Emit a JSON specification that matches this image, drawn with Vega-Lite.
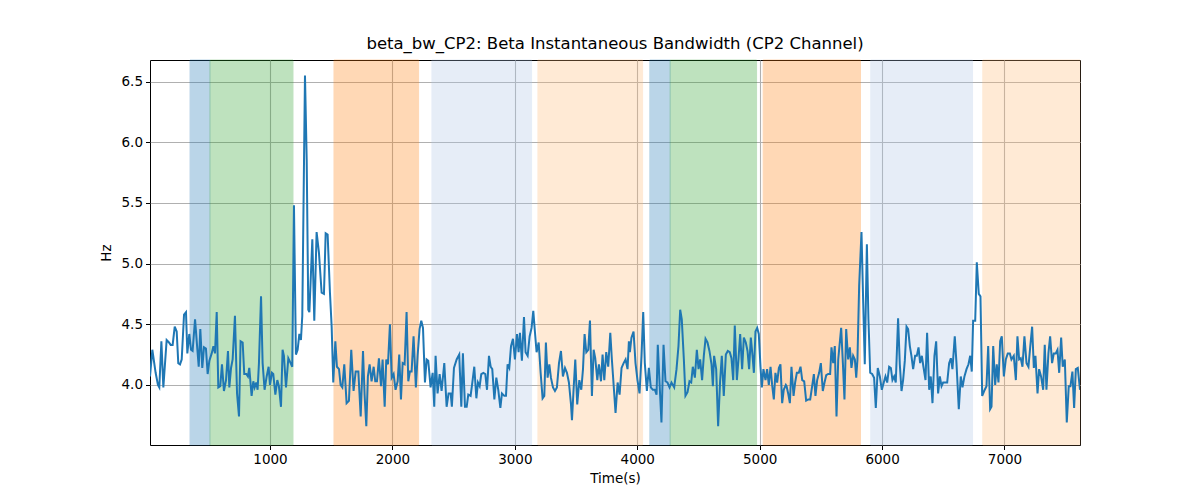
{
  "$schema": "https://vega.github.io/schema/vega-lite/v6.json",
  "description": "Beta instantaneous bandwidth of CP2 channel with shaded stage bands",
  "autosize": "none",
  "width": 930,
  "height": 385,
  "padding": {"left": 150, "top": 60, "right": 120, "bottom": 55},
  "background": "white",
  "config": {
    "font": "DejaVu Sans",
    "view": {"stroke": "black", "strokeWidth": 1},
    "axis": {
      "domain": false,
      "grid": true,
      "gridColor": "#b0b0b0",
      "gridWidth": 1.1,
      "tickColor": "black",
      "tickSize": 4.5,
      "tickWidth": 1,
      "labelFontSize": 13.5,
      "labelColor": "black",
      "labelPadding": 3,
      "titleFontSize": 13.5,
      "titleFontWeight": "normal",
      "titleColor": "black"
    },
    "title": {"fontSize": 16.5, "fontWeight": "normal", "color": "black", "offset": 7}
  },
  "title": "beta_bw_CP2: Beta Instantaneous Bandwidth (CP2 Channel)",
  "datasets": {
    "bands": [
      {"start": 347, "end": 510, "stage": "a"},
      {"start": 510, "end": 1188, "stage": "b"},
      {"start": 1523, "end": 2214, "stage": "c"},
      {"start": 2323, "end": 3137, "stage": "d"},
      {"start": 3189, "end": 4044, "stage": "e"},
      {"start": 4103, "end": 4269, "stage": "a"},
      {"start": 4269, "end": 4975, "stage": "b"},
      {"start": 5029, "end": 5824, "stage": "c"},
      {"start": 5908, "end": 6739, "stage": "d"},
      {"start": 6823, "end": 7617, "stage": "e"}
    ],
    "bw": [
      {"t": 20, "v": 4.07}, {"t": 39, "v": 4.29}, {"t": 66, "v": 4.10}, {"t": 85, "v": 4.00},
      {"t": 96, "v": 3.98}, {"t": 113, "v": 4.36}, {"t": 129, "v": 3.98}, {"t": 156, "v": 4.37},
      {"t": 175, "v": 4.35}, {"t": 189, "v": 4.33}, {"t": 205, "v": 4.33}, {"t": 222, "v": 4.48},
      {"t": 238, "v": 4.44}, {"t": 251, "v": 4.18}, {"t": 265, "v": 4.17}, {"t": 279, "v": 4.21},
      {"t": 298, "v": 4.58}, {"t": 314, "v": 4.60}, {"t": 325, "v": 4.26}, {"t": 341, "v": 4.42},
      {"t": 355, "v": 4.29}, {"t": 368, "v": 4.28}, {"t": 388, "v": 4.54}, {"t": 407, "v": 4.29},
      {"t": 418, "v": 4.15}, {"t": 431, "v": 4.46}, {"t": 447, "v": 4.14}, {"t": 461, "v": 4.31},
      {"t": 477, "v": 4.30}, {"t": 491, "v": 4.09}, {"t": 505, "v": 4.20}, {"t": 524, "v": 4.26},
      {"t": 538, "v": 4.32}, {"t": 551, "v": 4.26}, {"t": 565, "v": 4.60}, {"t": 578, "v": 3.98},
      {"t": 594, "v": 3.99}, {"t": 608, "v": 4.17}, {"t": 624, "v": 3.95}, {"t": 641, "v": 4.04},
      {"t": 657, "v": 4.28}, {"t": 668, "v": 3.98}, {"t": 682, "v": 4.14}, {"t": 695, "v": 4.21},
      {"t": 714, "v": 4.57}, {"t": 731, "v": 3.93}, {"t": 747, "v": 3.74}, {"t": 760, "v": 4.36},
      {"t": 777, "v": 4.35}, {"t": 790, "v": 4.09}, {"t": 807, "v": 4.09}, {"t": 820, "v": 4.07},
      {"t": 831, "v": 4.14}, {"t": 850, "v": 3.91}, {"t": 864, "v": 4.03}, {"t": 875, "v": 3.98},
      {"t": 888, "v": 4.02}, {"t": 899, "v": 3.96}, {"t": 910, "v": 4.18}, {"t": 927, "v": 4.73},
      {"t": 940, "v": 4.18}, {"t": 956, "v": 3.96}, {"t": 973, "v": 4.07}, {"t": 989, "v": 4.15},
      {"t": 1000, "v": 4.00}, {"t": 1016, "v": 4.10}, {"t": 1027, "v": 4.09}, {"t": 1044, "v": 3.92},
      {"t": 1060, "v": 4.04}, {"t": 1073, "v": 3.99}, {"t": 1090, "v": 3.82}, {"t": 1103, "v": 4.29},
      {"t": 1114, "v": 4.24}, {"t": 1131, "v": 3.98}, {"t": 1150, "v": 4.22}, {"t": 1169, "v": 4.18},
      {"t": 1182, "v": 4.15}, {"t": 1196, "v": 5.48}, {"t": 1212, "v": 4.25}, {"t": 1226, "v": 4.29},
      {"t": 1240, "v": 4.42}, {"t": 1253, "v": 4.37}, {"t": 1264, "v": 4.57}, {"t": 1286, "v": 6.55},
      {"t": 1300, "v": 5.86}, {"t": 1313, "v": 4.62}, {"t": 1322, "v": 4.60}, {"t": 1346, "v": 5.20},
      {"t": 1362, "v": 4.53}, {"t": 1381, "v": 5.26}, {"t": 1400, "v": 5.09}, {"t": 1422, "v": 4.76},
      {"t": 1441, "v": 4.75}, {"t": 1455, "v": 5.25}, {"t": 1471, "v": 5.24}, {"t": 1490, "v": 4.76},
      {"t": 1504, "v": 4.48}, {"t": 1517, "v": 4.02}, {"t": 1534, "v": 4.36}, {"t": 1547, "v": 4.15},
      {"t": 1564, "v": 4.13}, {"t": 1577, "v": 4.00}, {"t": 1591, "v": 3.98}, {"t": 1607, "v": 4.17},
      {"t": 1626, "v": 3.85}, {"t": 1645, "v": 3.87}, {"t": 1664, "v": 4.29}, {"t": 1683, "v": 3.95},
      {"t": 1700, "v": 4.11}, {"t": 1722, "v": 4.11}, {"t": 1741, "v": 3.74}, {"t": 1760, "v": 4.28},
      {"t": 1773, "v": 3.92}, {"t": 1787, "v": 3.66}, {"t": 1800, "v": 4.07}, {"t": 1814, "v": 4.17},
      {"t": 1830, "v": 4.03}, {"t": 1847, "v": 4.15}, {"t": 1860, "v": 4.03}, {"t": 1874, "v": 4.03},
      {"t": 1890, "v": 4.22}, {"t": 1907, "v": 3.99}, {"t": 1920, "v": 4.21}, {"t": 1937, "v": 3.82},
      {"t": 1950, "v": 4.21}, {"t": 1964, "v": 4.17}, {"t": 1980, "v": 4.50}, {"t": 1994, "v": 4.06},
      {"t": 2010, "v": 4.09}, {"t": 2026, "v": 3.96}, {"t": 2043, "v": 4.03}, {"t": 2056, "v": 4.25},
      {"t": 2070, "v": 3.88}, {"t": 2084, "v": 4.18}, {"t": 2100, "v": 4.17}, {"t": 2116, "v": 4.60},
      {"t": 2130, "v": 4.03}, {"t": 2143, "v": 4.11}, {"t": 2157, "v": 4.11}, {"t": 2173, "v": 4.40},
      {"t": 2192, "v": 3.98}, {"t": 2206, "v": 4.24}, {"t": 2222, "v": 4.46}, {"t": 2236, "v": 4.53},
      {"t": 2250, "v": 4.47}, {"t": 2266, "v": 4.02}, {"t": 2280, "v": 4.21}, {"t": 2293, "v": 4.20},
      {"t": 2312, "v": 3.98}, {"t": 2329, "v": 4.10}, {"t": 2342, "v": 3.82}, {"t": 2353, "v": 4.24},
      {"t": 2369, "v": 3.93}, {"t": 2386, "v": 4.09}, {"t": 2402, "v": 3.95}, {"t": 2424, "v": 4.18},
      {"t": 2443, "v": 3.82}, {"t": 2459, "v": 3.93}, {"t": 2476, "v": 3.93}, {"t": 2486, "v": 3.82},
      {"t": 2503, "v": 4.14}, {"t": 2525, "v": 4.21}, {"t": 2546, "v": 4.25}, {"t": 2563, "v": 3.82},
      {"t": 2576, "v": 4.26}, {"t": 2593, "v": 3.82}, {"t": 2607, "v": 3.82}, {"t": 2620, "v": 3.92},
      {"t": 2639, "v": 3.91}, {"t": 2653, "v": 4.02}, {"t": 2669, "v": 4.15}, {"t": 2686, "v": 3.89},
      {"t": 2699, "v": 4.02}, {"t": 2713, "v": 3.99}, {"t": 2726, "v": 4.09}, {"t": 2743, "v": 4.10},
      {"t": 2759, "v": 4.09}, {"t": 2773, "v": 3.96}, {"t": 2789, "v": 4.24}, {"t": 2803, "v": 4.15},
      {"t": 2816, "v": 4.13}, {"t": 2833, "v": 3.88}, {"t": 2849, "v": 4.06}, {"t": 2865, "v": 3.96},
      {"t": 2882, "v": 3.81}, {"t": 2895, "v": 3.93}, {"t": 2914, "v": 3.91}, {"t": 2928, "v": 3.91},
      {"t": 2941, "v": 4.17}, {"t": 2955, "v": 4.14}, {"t": 2969, "v": 4.32}, {"t": 2985, "v": 4.38},
      {"t": 3001, "v": 4.21}, {"t": 3018, "v": 4.42}, {"t": 3031, "v": 4.27}, {"t": 3042, "v": 4.43},
      {"t": 3058, "v": 4.20}, {"t": 3075, "v": 4.56}, {"t": 3088, "v": 4.27}, {"t": 3105, "v": 4.24},
      {"t": 3121, "v": 4.40}, {"t": 3137, "v": 4.47}, {"t": 3151, "v": 4.61}, {"t": 3165, "v": 4.43},
      {"t": 3178, "v": 4.27}, {"t": 3195, "v": 4.35}, {"t": 3211, "v": 4.10}, {"t": 3227, "v": 3.89},
      {"t": 3241, "v": 3.91}, {"t": 3254, "v": 4.35}, {"t": 3268, "v": 4.06}, {"t": 3282, "v": 4.17},
      {"t": 3295, "v": 4.06}, {"t": 3312, "v": 3.98}, {"t": 3328, "v": 3.95}, {"t": 3344, "v": 3.98},
      {"t": 3361, "v": 4.18}, {"t": 3377, "v": 4.28}, {"t": 3393, "v": 4.07}, {"t": 3410, "v": 4.14},
      {"t": 3426, "v": 4.10}, {"t": 3442, "v": 4.02}, {"t": 3459, "v": 3.84}, {"t": 3467, "v": 3.71},
      {"t": 3480, "v": 3.96}, {"t": 3494, "v": 4.21}, {"t": 3510, "v": 3.84}, {"t": 3527, "v": 4.04},
      {"t": 3543, "v": 3.96}, {"t": 3557, "v": 4.13}, {"t": 3570, "v": 4.42}, {"t": 3584, "v": 4.27},
      {"t": 3600, "v": 4.29}, {"t": 3614, "v": 4.53}, {"t": 3630, "v": 3.91}, {"t": 3644, "v": 4.29},
      {"t": 3657, "v": 4.22}, {"t": 3674, "v": 4.04}, {"t": 3687, "v": 4.17}, {"t": 3704, "v": 4.03},
      {"t": 3717, "v": 4.25}, {"t": 3731, "v": 4.04}, {"t": 3747, "v": 4.27}, {"t": 3763, "v": 4.15},
      {"t": 3780, "v": 4.43}, {"t": 3793, "v": 4.21}, {"t": 3810, "v": 3.96}, {"t": 3823, "v": 3.77},
      {"t": 3840, "v": 4.02}, {"t": 3856, "v": 3.92}, {"t": 3872, "v": 4.14}, {"t": 3889, "v": 4.18},
      {"t": 3905, "v": 4.21}, {"t": 3921, "v": 4.13}, {"t": 3932, "v": 4.36}, {"t": 3940, "v": 4.27},
      {"t": 3953, "v": 4.39}, {"t": 3970, "v": 4.44}, {"t": 3986, "v": 4.18}, {"t": 4002, "v": 4.04},
      {"t": 4019, "v": 3.93}, {"t": 4035, "v": 4.24}, {"t": 4049, "v": 4.60}, {"t": 4062, "v": 4.18},
      {"t": 4079, "v": 3.95}, {"t": 4095, "v": 4.14}, {"t": 4111, "v": 3.98}, {"t": 4128, "v": 3.96},
      {"t": 4144, "v": 3.96}, {"t": 4158, "v": 3.92}, {"t": 4168, "v": 4.33}, {"t": 4185, "v": 3.96},
      {"t": 4198, "v": 3.69}, {"t": 4215, "v": 4.33}, {"t": 4231, "v": 4.03}, {"t": 4247, "v": 4.02},
      {"t": 4264, "v": 3.98}, {"t": 4280, "v": 4.02}, {"t": 4302, "v": 3.98}, {"t": 4321, "v": 4.13},
      {"t": 4337, "v": 4.32}, {"t": 4351, "v": 4.62}, {"t": 4364, "v": 4.54}, {"t": 4381, "v": 4.21},
      {"t": 4394, "v": 3.91}, {"t": 4411, "v": 3.94}, {"t": 4427, "v": 4.03}, {"t": 4441, "v": 4.02},
      {"t": 4454, "v": 4.15}, {"t": 4471, "v": 4.06}, {"t": 4487, "v": 4.29}, {"t": 4501, "v": 4.13},
      {"t": 4514, "v": 4.21}, {"t": 4530, "v": 4.04}, {"t": 4544, "v": 4.24}, {"t": 4558, "v": 4.38},
      {"t": 4574, "v": 4.35}, {"t": 4590, "v": 4.28}, {"t": 4607, "v": 4.17}, {"t": 4618, "v": 3.99},
      {"t": 4628, "v": 4.24}, {"t": 4645, "v": 4.13}, {"t": 4661, "v": 3.66}, {"t": 4677, "v": 4.03},
      {"t": 4691, "v": 4.24}, {"t": 4707, "v": 3.91}, {"t": 4724, "v": 4.25}, {"t": 4740, "v": 4.28},
      {"t": 4756, "v": 4.27}, {"t": 4770, "v": 4.22}, {"t": 4784, "v": 4.04}, {"t": 4797, "v": 4.49},
      {"t": 4814, "v": 4.04}, {"t": 4827, "v": 4.21}, {"t": 4841, "v": 4.42}, {"t": 4857, "v": 4.13},
      {"t": 4871, "v": 4.39}, {"t": 4887, "v": 4.35}, {"t": 4901, "v": 4.28}, {"t": 4914, "v": 4.13},
      {"t": 4928, "v": 4.39}, {"t": 4942, "v": 4.24}, {"t": 4953, "v": 4.10}, {"t": 4966, "v": 4.44},
      {"t": 4980, "v": 4.47}, {"t": 4993, "v": 4.42}, {"t": 5007, "v": 4.15}, {"t": 5018, "v": 3.98},
      {"t": 5031, "v": 4.13}, {"t": 5048, "v": 4.04}, {"t": 5061, "v": 4.13}, {"t": 5075, "v": 4.00},
      {"t": 5089, "v": 4.15}, {"t": 5102, "v": 4.00}, {"t": 5116, "v": 3.88}, {"t": 5129, "v": 4.10},
      {"t": 5143, "v": 4.02}, {"t": 5157, "v": 4.14}, {"t": 5170, "v": 4.17}, {"t": 5184, "v": 3.85},
      {"t": 5197, "v": 3.96}, {"t": 5214, "v": 4.00}, {"t": 5220, "v": 3.99}, {"t": 5233, "v": 3.93},
      {"t": 5247, "v": 3.85}, {"t": 5260, "v": 4.15}, {"t": 5277, "v": 3.91}, {"t": 5290, "v": 4.02},
      {"t": 5304, "v": 4.10}, {"t": 5320, "v": 4.10}, {"t": 5334, "v": 4.15}, {"t": 5348, "v": 4.04},
      {"t": 5364, "v": 4.03}, {"t": 5380, "v": 3.87}, {"t": 5397, "v": 3.88}, {"t": 5413, "v": 3.88},
      {"t": 5429, "v": 3.99}, {"t": 5443, "v": 4.09}, {"t": 5456, "v": 3.91}, {"t": 5470, "v": 4.04},
      {"t": 5486, "v": 4.10}, {"t": 5500, "v": 4.18}, {"t": 5516, "v": 3.95}, {"t": 5530, "v": 4.02},
      {"t": 5544, "v": 4.08}, {"t": 5560, "v": 4.09}, {"t": 5576, "v": 4.09}, {"t": 5587, "v": 4.31},
      {"t": 5601, "v": 4.18}, {"t": 5614, "v": 4.32}, {"t": 5628, "v": 3.74}, {"t": 5642, "v": 4.21},
      {"t": 5652, "v": 4.32}, {"t": 5666, "v": 4.47}, {"t": 5680, "v": 4.18}, {"t": 5693, "v": 3.88},
      {"t": 5707, "v": 4.46}, {"t": 5723, "v": 4.21}, {"t": 5737, "v": 4.31}, {"t": 5750, "v": 4.14},
      {"t": 5764, "v": 4.24}, {"t": 5778, "v": 4.21}, {"t": 5789, "v": 4.06}, {"t": 5799, "v": 4.21},
      {"t": 5813, "v": 4.82}, {"t": 5832, "v": 5.26}, {"t": 5846, "v": 4.68}, {"t": 5859, "v": 4.17},
      {"t": 5876, "v": 5.16}, {"t": 5889, "v": 4.54}, {"t": 5903, "v": 4.10}, {"t": 5919, "v": 4.09},
      {"t": 5935, "v": 4.06}, {"t": 5949, "v": 3.81}, {"t": 5965, "v": 4.14}, {"t": 5982, "v": 4.07},
      {"t": 5998, "v": 3.96}, {"t": 6014, "v": 4.02}, {"t": 6028, "v": 4.07}, {"t": 6042, "v": 4.02},
      {"t": 6058, "v": 4.15}, {"t": 6072, "v": 4.14}, {"t": 6085, "v": 4.04}, {"t": 6099, "v": 4.07},
      {"t": 6112, "v": 4.02}, {"t": 6131, "v": 4.55}, {"t": 6145, "v": 4.17}, {"t": 6159, "v": 3.95},
      {"t": 6172, "v": 4.04}, {"t": 6186, "v": 4.20}, {"t": 6200, "v": 4.48}, {"t": 6213, "v": 4.46},
      {"t": 6227, "v": 4.32}, {"t": 6240, "v": 4.24}, {"t": 6254, "v": 4.13}, {"t": 6270, "v": 4.24},
      {"t": 6284, "v": 4.24}, {"t": 6298, "v": 4.31}, {"t": 6311, "v": 4.18}, {"t": 6325, "v": 4.24},
      {"t": 6338, "v": 4.15}, {"t": 6355, "v": 4.04}, {"t": 6368, "v": 4.43}, {"t": 6385, "v": 3.96},
      {"t": 6398, "v": 4.07}, {"t": 6412, "v": 3.85}, {"t": 6428, "v": 4.24}, {"t": 6442, "v": 4.36},
      {"t": 6458, "v": 3.93}, {"t": 6472, "v": 4.07}, {"t": 6486, "v": 3.99}, {"t": 6499, "v": 4.02},
      {"t": 6515, "v": 4.02}, {"t": 6532, "v": 4.02}, {"t": 6548, "v": 4.18}, {"t": 6562, "v": 4.22},
      {"t": 6575, "v": 4.13}, {"t": 6594, "v": 4.40}, {"t": 6608, "v": 4.18}, {"t": 6627, "v": 3.80},
      {"t": 6643, "v": 4.07}, {"t": 6657, "v": 3.98}, {"t": 6673, "v": 4.07}, {"t": 6690, "v": 4.13},
      {"t": 6706, "v": 4.17}, {"t": 6720, "v": 4.24}, {"t": 6733, "v": 4.11}, {"t": 6744, "v": 4.53},
      {"t": 6761, "v": 4.53}, {"t": 6774, "v": 5.01}, {"t": 6790, "v": 4.75}, {"t": 6804, "v": 4.73},
      {"t": 6818, "v": 3.91}, {"t": 6834, "v": 3.95}, {"t": 6853, "v": 3.99}, {"t": 6867, "v": 4.32},
      {"t": 6883, "v": 3.80}, {"t": 6894, "v": 3.82}, {"t": 6908, "v": 4.32}, {"t": 6924, "v": 4.00},
      {"t": 6937, "v": 4.17}, {"t": 6951, "v": 4.02}, {"t": 6965, "v": 4.36}, {"t": 6978, "v": 4.40},
      {"t": 6995, "v": 4.07}, {"t": 7011, "v": 4.21}, {"t": 7027, "v": 4.26}, {"t": 7044, "v": 4.26},
      {"t": 7057, "v": 4.21}, {"t": 7076, "v": 4.24}, {"t": 7093, "v": 4.04}, {"t": 7106, "v": 4.40},
      {"t": 7120, "v": 4.21}, {"t": 7133, "v": 4.22}, {"t": 7147, "v": 4.15}, {"t": 7163, "v": 4.40},
      {"t": 7180, "v": 4.18}, {"t": 7196, "v": 4.15}, {"t": 7210, "v": 4.31}, {"t": 7226, "v": 4.48},
      {"t": 7240, "v": 4.14}, {"t": 7253, "v": 4.24}, {"t": 7270, "v": 3.93}, {"t": 7283, "v": 4.13},
      {"t": 7299, "v": 4.07}, {"t": 7316, "v": 3.96}, {"t": 7329, "v": 4.33}, {"t": 7343, "v": 3.96},
      {"t": 7359, "v": 4.26}, {"t": 7373, "v": 4.40}, {"t": 7389, "v": 4.18}, {"t": 7403, "v": 4.26},
      {"t": 7419, "v": 4.26}, {"t": 7433, "v": 4.29}, {"t": 7447, "v": 4.10}, {"t": 7463, "v": 4.39},
      {"t": 7476, "v": 4.15}, {"t": 7493, "v": 4.21}, {"t": 7509, "v": 3.69}, {"t": 7525, "v": 3.99},
      {"t": 7539, "v": 3.99}, {"t": 7555, "v": 4.11}, {"t": 7569, "v": 3.81}, {"t": 7583, "v": 4.13},
      {"t": 7599, "v": 4.14}, {"t": 7617, "v": 3.96}
    ]
  },
  "layer": [
    {
      "data": {"name": "bands"},
      "mark": {"type": "rect", "opacity": 0.3, "strokeWidth": 1},
      "encoding": {
        "x": {
          "field": "start",
          "type": "quantitative",
          "scale": {"domain": [20, 7617], "nice": false, "zero": false},
          "axis": {"values": [1000, 2000, 3000, 4000, 5000, 6000, 7000], "format": "d", "title": "Time(s)", "titlePadding": 5}
        },
        "x2": {"field": "end"},
        "color": {
          "field": "stage",
          "type": "nominal",
          "scale": {"domain": ["a", "b", "c", "d", "e"], "range": ["#1f77b4", "#2ca02c", "#ff7f0e", "#aec7e8", "#ffbb78"]},
          "legend": null
        },
        "stroke": {
          "field": "stage",
          "type": "nominal",
          "scale": {"domain": ["a", "b", "c", "d", "e"], "range": ["#1f77b4", "#2ca02c", "#ff7f0e", "#aec7e8", "#ffbb78"]},
          "legend": null
        }
      }
    },
    {
      "data": {"name": "bw"},
      "mark": {"type": "line", "color": "#1f77b4", "strokeWidth": 2, "clip": true},
      "encoding": {
        "x": {"field": "t", "type": "quantitative"},
        "y": {
          "field": "v",
          "type": "quantitative",
          "scale": {"domain": [3.505, 6.678], "nice": false, "zero": false},
          "axis": {"values": [4.0, 4.5, 5.0, 5.5, 6.0, 6.5], "format": ".1f", "title": "Hz", "titlePadding": 8}
        }
      }
    }
  ]
}
